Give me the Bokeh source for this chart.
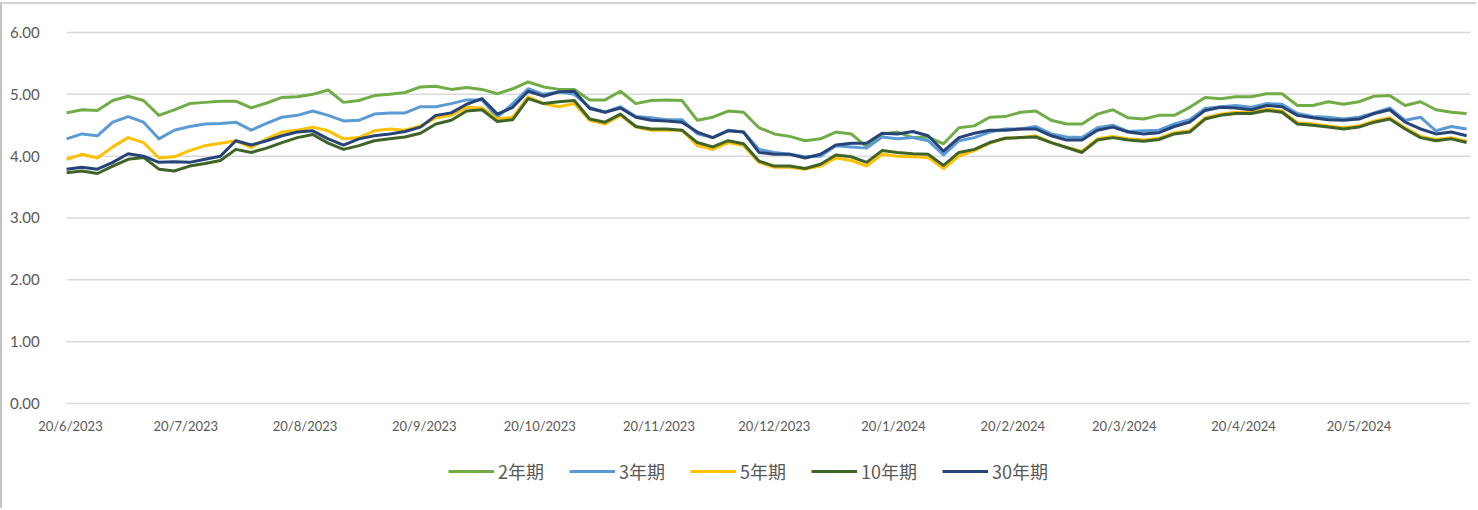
import pandas as pd
from bokeh.plotting import figure
from bokeh.models import (Legend, LegendItem, FixedTicker, Range1d,
                          NumeralTickFormatter)
from bokeh.embed import file_html
from bokeh.resources import INLINE

# sample dates (every 4 calendar days)
dates = pd.date_range("2023-06-19", periods=92, freq="4D")

y2 = [4.70, 4.75, 4.74, 4.90, 4.97, 4.90, 4.66, 4.75, 4.85, 4.87,
      4.89, 4.89, 4.78, 4.86, 4.95, 4.96, 5.00, 5.07, 4.87, 4.90,
      4.98, 5.00, 5.03, 5.12, 5.13, 5.08, 5.11, 5.08, 5.01, 5.09,
      5.20, 5.12, 5.08, 5.08, 4.91, 4.91, 5.05, 4.85, 4.90, 4.91,
      4.90, 4.58, 4.63, 4.73, 4.71, 4.46, 4.36, 4.32, 4.25, 4.28,
      4.39, 4.36, 4.15, 4.36, 4.39, 4.30, 4.31, 4.20, 4.46, 4.49,
      4.63, 4.64, 4.71, 4.73, 4.58, 4.52, 4.52, 4.68, 4.75, 4.62,
      4.60, 4.66, 4.66, 4.79, 4.95, 4.93, 4.96, 4.96, 5.01, 5.01,
      4.82, 4.82, 4.88, 4.84, 4.88, 4.97, 4.98, 4.82, 4.88, 4.75,
      4.71, 4.69]
y3 = [4.28, 4.36, 4.33, 4.55, 4.64, 4.55, 4.28, 4.42, 4.48, 4.52,
      4.53, 4.55, 4.42, 4.53, 4.63, 4.66, 4.73, 4.66, 4.57, 4.58,
      4.68, 4.70, 4.70, 4.80, 4.80, 4.85, 4.91, 4.91, 4.63, 4.85,
      5.09, 5.00, 5.04, 5.00, 4.79, 4.71, 4.80, 4.64, 4.62, 4.59,
      4.59, 4.36, 4.30, 4.42, 4.39, 4.11, 4.06, 4.03, 3.99, 4.00,
      4.17, 4.15, 4.13, 4.31, 4.28, 4.30, 4.25, 4.02, 4.25, 4.30,
      4.39, 4.44, 4.44, 4.48, 4.36, 4.31, 4.30, 4.46, 4.50, 4.40,
      4.41, 4.42, 4.52, 4.59, 4.77, 4.80, 4.82, 4.79, 4.85, 4.84,
      4.69, 4.64, 4.63, 4.60, 4.63, 4.70, 4.78, 4.58, 4.63, 4.41,
      4.48, 4.44]
y5 = [3.95, 4.03, 3.97, 4.15, 4.30, 4.22, 3.97, 3.99, 4.09, 4.17,
      4.21, 4.25, 4.14, 4.28, 4.39, 4.42, 4.47, 4.41, 4.28, 4.30,
      4.41, 4.44, 4.42, 4.49, 4.62, 4.66, 4.79, 4.78, 4.60, 4.63,
      4.96, 4.85, 4.80, 4.85, 4.58, 4.52, 4.66, 4.47, 4.42, 4.42,
      4.42, 4.17, 4.11, 4.22, 4.17, 3.90, 3.82, 3.82, 3.79, 3.84,
      3.97, 3.93, 3.84, 4.03, 4.00, 3.99, 3.98, 3.80, 4.00, 4.09,
      4.21, 4.29, 4.30, 4.33, 4.22, 4.14, 4.08, 4.28, 4.32, 4.28,
      4.26, 4.29, 4.38, 4.41, 4.62, 4.68, 4.71, 4.71, 4.76, 4.73,
      4.54, 4.52, 4.49, 4.46, 4.49, 4.57, 4.62, 4.46, 4.32, 4.27,
      4.30, 4.24]
y10 = [3.73, 3.76, 3.72, 3.84, 3.95, 3.98, 3.79, 3.76, 3.84, 3.88,
       3.93, 4.11, 4.06, 4.13, 4.22, 4.30, 4.35, 4.21, 4.11, 4.17,
       4.25, 4.28, 4.31, 4.37, 4.52, 4.58, 4.73, 4.75, 4.56, 4.59,
       4.93, 4.85, 4.88, 4.90, 4.60, 4.55, 4.68, 4.48, 4.44, 4.44,
       4.42, 4.22, 4.15, 4.25, 4.20, 3.92, 3.84, 3.84, 3.80, 3.87,
       4.02, 3.99, 3.90, 4.09, 4.06, 4.04, 4.03, 3.85, 4.06, 4.11,
       4.22, 4.29, 4.30, 4.31, 4.22, 4.14, 4.06, 4.26, 4.30, 4.26,
       4.24, 4.27, 4.36, 4.39, 4.60, 4.66, 4.69, 4.69, 4.74, 4.71,
       4.52, 4.50, 4.47, 4.44, 4.47, 4.55, 4.60, 4.44, 4.30, 4.25,
       4.28, 4.22]
y30 = [3.79, 3.82, 3.79, 3.90, 4.04, 4.00, 3.90, 3.91, 3.90, 3.95,
       4.00, 4.25, 4.18, 4.25, 4.33, 4.39, 4.41, 4.28, 4.18, 4.28,
       4.33, 4.36, 4.40, 4.47, 4.66, 4.70, 4.84, 4.93, 4.68, 4.79,
       5.05, 4.97, 5.04, 5.05, 4.77, 4.71, 4.78, 4.63, 4.58, 4.57,
       4.55, 4.39, 4.30, 4.41, 4.39, 4.06, 4.03, 4.03, 3.97, 4.03,
       4.18, 4.21, 4.21, 4.37, 4.36, 4.40, 4.33, 4.08, 4.30, 4.37,
       4.42, 4.42, 4.44, 4.44, 4.33, 4.26, 4.26, 4.42, 4.47, 4.39,
       4.36, 4.38, 4.48, 4.55, 4.74, 4.79, 4.78, 4.75, 4.82, 4.80,
       4.66, 4.62, 4.59, 4.58, 4.60, 4.69, 4.75, 4.55, 4.44, 4.36,
       4.39, 4.33]

series_names = ["2年期", "3年期", "5年期", "10年期", "30年期"]
series_colors = ["#70AD47", "#5B9BD5", "#FFC000", "#3F6428", "#264478"]

tick_dates = ["2023-06-20", "2023-07-20", "2023-08-20", "2023-09-20",
              "2023-10-20", "2023-11-20", "2023-12-20", "2024-01-20",
              "2024-02-20", "2024-03-20", "2024-04-20", "2024-05-20"]
tick_labels = ["20/6/2023", "20/7/2023", "20/8/2023", "20/9/2023",
               "20/10/2023", "20/11/2023", "20/12/2023", "20/1/2024",
               "20/2/2024", "20/3/2024", "20/4/2024", "20/5/2024"]
y_ticks = [0, 1, 2, 3, 4, 5, 6]

# plot-area span and layout (pixels)
area_start = pd.Timestamp("2023-06-19")
area_end = pd.Timestamp("2024-06-18")
area_px = 1402          # width of the plotting area
left_px = 64            # room for y labels, kept inside the frame
view_start = area_start - (area_end - area_start) * left_px / area_px
px_per_unit = 61.83     # vertical pixels per 1.00
top_px = 18             # room above the 6.00 gridline, inside the frame
y_top = 6 + top_px / px_per_unit

p = figure(width=1476, height=506, x_axis_type="datetime",
           output_backend="svg", toolbar_location=None,
           x_range=Range1d(view_start, area_end),
           y_range=Range1d(-1.585, y_top),
           min_border_left=0, min_border_right=8,
           min_border_top=28 - top_px, min_border_bottom=9)
p.outline_line_color = None
p.background_fill_color = "white"
p.styles = {"border-left": "2px solid #C4C4C4", "border-top": "2px solid #D2D2D2",
            "margin-top": "2px"}
p.xgrid.visible = False
p.ygrid.visible = False

# horizontal gridlines across the plotting area
p.segment(x0=[area_start] * len(y_ticks), x1=[area_end] * len(y_ticks),
          y0=y_ticks, y1=y_ticks, line_color="#D9D9D9", line_width=1.5)

renderers = []
for vals, c in zip([y2, y3, y5, y10, y30], series_colors):
    r = p.line(dates, vals, line_color=c, line_width=3, line_join="round")
    renderers.append(r)

# axes
tick_ms = [int(pd.Timestamp(d).value // 10**6) for d in tick_dates]
p.xaxis.ticker = FixedTicker(ticks=tick_ms)
p.xaxis.major_label_overrides = {t: l for t, l in zip(tick_ms, tick_labels)}
p.xaxis.fixed_location = 0
p.yaxis.ticker = FixedTicker(ticks=y_ticks)
p.yaxis.formatter = NumeralTickFormatter(format="0.00")
p.yaxis.fixed_location = int(area_start.value // 10**6)
for ax in (p.xaxis, p.yaxis):
    ax.axis_line_color = None
    ax.major_tick_line_color = None
    ax.minor_tick_line_color = None
    ax.major_label_text_color = "#595959"
    ax.major_label_text_font = "Lato"
p.xaxis.major_label_text_font_size = "13px"
p.xaxis.major_label_standoff = 9
p.yaxis.major_label_text_font_size = "15px"
p.yaxis.major_label_standoff = 21

legend = Legend(items=[LegendItem(label=n, renderers=[r])
                       for n, r in zip(series_names, renderers)],
                orientation="horizontal", location=(446, 17))
legend.glyph_width = 46
legend.glyph_height = 20
legend.label_standoff = 4
legend.spacing = 25
legend.padding = 0
legend.margin = 0
legend.label_text_font = "Noto Sans CJK SC"
legend.label_text_font_size = "18px"
legend.label_text_color = "#595959"
legend.border_line_color = None
legend.background_fill_alpha = 0
p.add_layout(legend)

open("out.html", "w").write(file_html(p, INLINE))
